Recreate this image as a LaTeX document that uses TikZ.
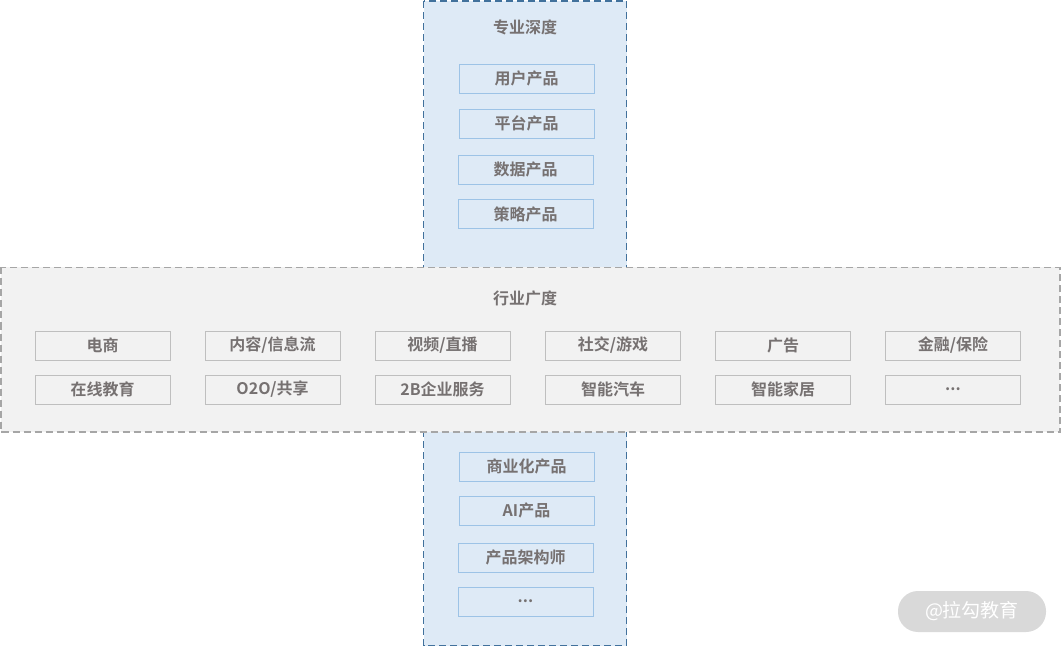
\documentclass[tikz,border=0pt]{standalone}
\usepackage{fontspec}
\newfontfamily\cjk{Noto Sans CJK SC}[BoldFont={Noto Sans CJK SC Bold}]
\definecolor{colfill}{HTML}{DEEAF6}
\definecolor{colline}{HTML}{41719C}
\definecolor{boxblue}{HTML}{9DC3E6}
\definecolor{bandfill}{HTML}{F2F2F2}
\definecolor{bandline}{HTML}{A6A6A6}
\definecolor{boxgray}{HTML}{BFBFBF}
\definecolor{txt}{HTML}{767171}
\definecolor{wm}{HTML}{D9D9D9}
\begin{document}
\begin{tikzpicture}[x=1pt,y=-1pt,
  bluebox/.style={draw=boxblue,fill=colfill,line width=0.8pt,minimum width=135pt,minimum height=29pt,inner sep=0pt,font=\cjk\bfseries\fontsize{16}{16}\selectfont,text=txt},
  graybox/.style={draw=boxgray,fill=bandfill,line width=0.8pt,minimum width=135pt,minimum height=29pt,inner sep=0pt,font=\cjk\bfseries\fontsize{16}{16}\selectfont,text=txt},
  titletext/.style={font=\cjk\bfseries\fontsize{16}{16}\selectfont,text=txt,inner sep=0pt}]
\useasboundingbox (0,0) rectangle (1061,647);
\fill[white] (0,0) rectangle (1061,647);
% vertical column
\draw[colline,fill=colfill,line width=1.3pt,dash pattern=on 7pt off 4pt] (423.5,1) rectangle (626.5,645.5);
% horizontal band
\draw[bandline,fill=bandfill,line width=1.1pt,dash pattern=on 7pt off 4pt] (1,267.5) rectangle (1060,432);
\node[titletext] (t1) at (525,27) {专业深度};
\node[titletext] (t2) at (525,298) {行业广度};
% top boxes
\node[bluebox] (u1) at (526.5,78.5) {用户产品};
\node[bluebox] (u2) at (526.5,123.5) {平台产品};
\node[bluebox] (u3) at (525.5,169.5) {数据产品};
\node[bluebox] (u4) at (525.5,214) {策略产品};
% bottom boxes
\node[bluebox] (d1) at (526.5,466.5) {商业化产品};
\node[bluebox] (d2) at (526.5,510.5) {AI产品};
\node[bluebox] (d3) at (525.5,557.5) {产品架构师};
\node[bluebox] (d4) at (525.5,601.5) {...};
% band boxes
\node[graybox] (g11) at (102.5,345.5) {电商};
\node[graybox] (g12) at (272.5,345.5) {内容/信息流};
\node[graybox] (g13) at (442.5,345.5) {视频/直播};
\node[graybox] (g14) at (613,345.5) {社交/游戏};
\node[graybox] (g15) at (783,345.5) {广告};
\node[graybox] (g16) at (953,345.5) {金融/保险};
\node[graybox] (g21) at (102.5,389.5) {在线教育};
\node[graybox] (g22) at (272.5,389.5) {O2O/共享};
\node[graybox] (g23) at (442.5,389.5) {2B企业服务};
\node[graybox] (g24) at (613,389.5) {智能汽车};
\node[graybox] (g25) at (783,389.5) {智能家居};
\node[graybox] (g26) at (953,389.5) {...};
% watermark
\node[fill=wm,rounded corners=20pt,minimum width=148pt,minimum height=41pt,inner sep=0pt,text=white,font=\cjk\fontsize{19}{19}\selectfont] (wm) at (972,611.5) {@拉勾教育};
\end{tikzpicture}
\end{document}
